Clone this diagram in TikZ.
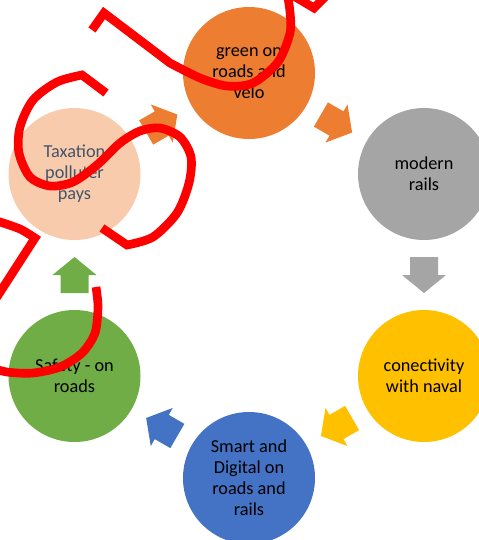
\documentclass[tikz,border=0pt]{standalone}
\usepackage{fontspec}
\setmainfont{Carlito}
\usetikzlibrary{calc}
\definecolor{cOrange}{HTML}{ED7D31}
\definecolor{cGray}{HTML}{A5A5A5}
\definecolor{cYellow}{HTML}{FFC000}
\definecolor{cBlue}{HTML}{4472C4}
\definecolor{cGreen}{HTML}{70AD47}
\definecolor{cPeach}{HTML}{F8CBAD}
\definecolor{cSlate}{HTML}{44546A}
\tikzset{
  cyc/.style={circle, minimum size=99pt, inner sep=0pt, align=center,
    font=\fontsize{13.7}{15.75}\selectfont, text=black},
  cycarrow/.pic={\fill (-18,-14) -- (0,-14) -- (0,-22) -- (18,0) -- (0,22) -- (0,14) -- (-18,14) -- cycle;},
  scribble/.style={draw=red, line width=6.5pt, line join=miter, line cap=butt}
}
\begin{document}
\begin{tikzpicture}[x=0.75pt, y=-0.75pt]
\useasboundingbox (0,0) rectangle (479,540);
\clip (0,0) rectangle (479,540);
% circles
\node[cyc, fill=cOrange] (green) at (249,73) {green on\\roads and\\velo};
\node[cyc, fill=cGray] (rails) at (424,174) {modern\\rails};
\node[cyc, fill=cYellow] (naval) at (424,376) {conectivity\\with naval};
\node[cyc, fill=cBlue] (smart) at (249,478) {Smart and\\Digital on\\roads and\\rails};
\node[cyc, fill=cGreen] (safety) at (74.5,376) {Safety - on\\roads};
\node[cyc, fill=cPeach, text=cSlate] (tax) at (74.5,174) {Taxation\\polluter\\pays};
% block arrows
\pic[color=cOrange, rotate=30] at ($(tax)!0.5!(green)$) {cycarrow};
\pic[color=cOrange, rotate=-30] at ($(green)!0.5!(rails)$) {cycarrow};
\pic[color=cGray, rotate=-90] at ($(rails)!0.5!(naval)$) {cycarrow};
\pic[color=cYellow, rotate=210] at ($(naval)!0.5!(smart)$) {cycarrow};
\pic[color=cBlue, rotate=150] at ($(smart)!0.5!(safety)$) {cycarrow};
\pic[color=cGreen, rotate=90] at ($(safety)!0.5!(tax)$) {cycarrow};
% red scribbles
\path[scribble] (92,30) -- (104,13) --plot[smooth] coordinates {(170,63) (200,78) (227,86) (253,83) (278,62) (290,33) (290,12) (287,-8)} -- (314,8) -- (328,-6);
\path[scribble] (106,93) --plot[smooth] coordinates {(82,75) (57,82) (33,100) (20,127) (19,153) (30,177) (50,186) (73,182) (97,165) (120,143) (140,131) (160,128) (180,137) (191,157) (189,183) (177,213) (153,237) (127,245)} -- (102,228);
\path[scribble] (-20,216) --plot[smooth] coordinates {(0,222) (20,229) (35,238)} -- (-5,300);
\path[scribble] plot[smooth] coordinates {(96,287) (98,307) (95,333) (82,353) (60,367) (33,373) (7,372) (-15,366)};
\end{tikzpicture}
\end{document}
